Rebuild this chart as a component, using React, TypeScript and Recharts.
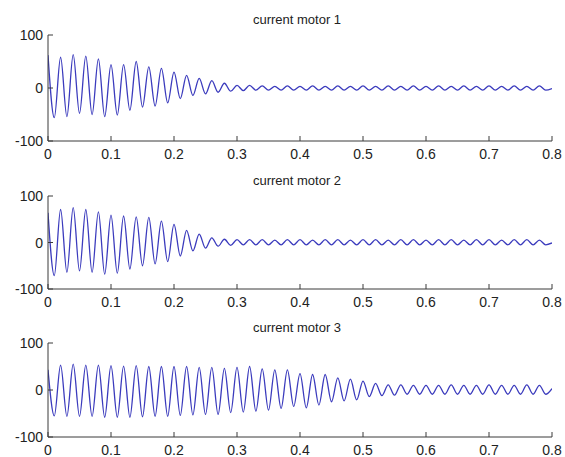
import React from 'react';
import { LineChart, Line, XAxis, YAxis } from 'recharts';

// sample times (s), one sample per half-cycle of the 50 Hz current
const times = [
  0, 0.01, 0.02, 0.03, 0.04, 0.05, 0.06, 0.07, 0.08, 0.09,
  0.1, 0.11, 0.12, 0.13, 0.14, 0.15, 0.16, 0.17, 0.18, 0.19,
  0.2, 0.21, 0.22, 0.23, 0.24, 0.25, 0.26, 0.27, 0.28, 0.29,
  0.3, 0.31, 0.32, 0.33, 0.34, 0.35, 0.36, 0.37, 0.38, 0.39,
  0.4, 0.41, 0.42, 0.43, 0.44, 0.45, 0.46, 0.47, 0.48, 0.49,
  0.5, 0.51, 0.52, 0.53, 0.54, 0.55, 0.56, 0.57, 0.58, 0.59,
  0.6, 0.61, 0.62, 0.63, 0.64, 0.65, 0.66, 0.67, 0.68, 0.69,
  0.7, 0.71, 0.72, 0.73, 0.74, 0.75, 0.76, 0.77, 0.78, 0.79,
  0.8,
];

const motor1 = [
  62, -56, 58, -54, 63, -48, 60, -50, 55, -54,
  44, -51, 44, -42, 50, -36, 40, -34, 37, -28,
  30, -20, 24, -14, 18, -11, 14, -8, 9, -6,
  5, -5, 5, -4, 4, -4, 3, -4, 4, -4,
  3, -4, 4, -4, 3, -4, 4, -4, 3, -4,
  4, -4, 3, -4, 4, -4, 3, -4, 4, -4,
  3, -4, 4, -4, 3, -4, 4, -4, 3, -4,
  4, -4, 3, -4, 4, -4, 3, -4, 4, -4,
  -1,
];

const motor2 = [
  64, -71, 71, -64, 75, -61, 71, -64, 66, -68,
  59, -66, 57, -57, 55, -50, 54, -46, 46, -41,
  39, -29, 26, -18, 18, -12, 10, -8, 7, -6,
  6, -5, 6, -5, 6, -5, 5, -5, 6, -5,
  6, -5, 5, -5, 6, -5, 6, -5, 5, -5,
  6, -5, 6, -5, 5, -5, 6, -5, 6, -5,
  5, -5, 6, -5, 6, -5, 5, -5, 6, -5,
  6, -5, 5, -5, 6, -5, 6, -5, 5, -5,
  -1,
];

const motor3 = [
  43, -55, 53, -56, 55, -56, 53, -56, 53, -58,
  52, -58, 51, -58, 52, -57, 50, -56, 50, -56,
  50, -54, 50, -53, 48, -52, 48, -52, 46, -48,
  48, -47, 50, -45, 45, -43, 43, -39, 43, -35,
  35, -38, 33, -32, 33, -25, 26, -23, 23, -21,
  19, -14, 14, -12, 11, -11, 11, -9, 10, -9,
  10, -9, 10, -9, 11, -9, 10, -9, 10, -9,
  11, -9, 10, -9, 10, -9, 11, -9, 10, -9,
  3,
];

const titles = ['current motor 1', 'current motor 2', 'current motor 3'];
const xTicks = [0, 0.1, 0.2, 0.3, 0.4, 0.5, 0.6, 0.7, 0.8];
const yTicks = [-100, 0, 100];

const AXIS = '#3a3a3a';
const TXT = '#222';
const LINE = '#3b3bbd';
const FONT = '"Liberation Sans", Arial, sans-serif';
const TICK_FS = 14;

const BottomTick = (props: any) => {
  const { x, y, payload } = props;
  return (
    <g>
      <line x1={x} y1={y} x2={x} y2={y - 5} stroke={AXIS} />
      <text x={x} y={y + 18} textAnchor="middle" fontSize={TICK_FS} fontFamily={FONT} fill={TXT}>
        {String(payload.value)}
      </text>
    </g>
  );
};
const TopTick = (props: any) => {
  const { x, y } = props;
  return <line x1={x} y1={y} x2={x} y2={y + 5} stroke={AXIS} />;
};
const LeftTick = (props: any) => {
  const { x, y, payload } = props;
  return (
    <g>
      <line x1={x} y1={y} x2={x + 5} y2={y} stroke={AXIS} />
      <text x={x - 5} y={y} dy="0.36em" textAnchor="end" fontSize={TICK_FS} fontFamily={FONT} fill={TXT}>
        {String(payload.value)}
      </text>
    </g>
  );
};
const RightTick = (props: any) => {
  const { x, y } = props;
  return <line x1={x} y1={y} x2={x - 5} y2={y} stroke={AXIS} />;
};

const panels = [
  { values: motor1, title: titles[0], top: 0, height: 165, plotTop: 35, titleY: 20 },
  { values: motor2, title: titles[1], top: 165, height: 148, plotTop: 31, titleY: 181 },
  { values: motor3, title: titles[2], top: 313, height: 144, plotTop: 30, titleY: 328 },
];
const BOTTOM_AXIS_H = [24, 24, 20];

export default function App() {
  return (
    <div style={{ position: 'fixed', left: 0, top: 0, width: 565, height: 457, background: '#fff', fontFamily: FONT }}>
      {panels.map((p, i) => {
        const data = times.map((t, k) => ({ t, v: p.values[k] }));
        return (
          <React.Fragment key={i}>
            <div
              style={{
                position: 'absolute', left: 197, width: 200, top: p.titleY - 8, height: 16, lineHeight: '16px',
                textAlign: 'center', fontSize: 13, color: TXT, fontFamily: FONT,
              }}
            >
              {p.title}
            </div>
            <div style={{ position: 'absolute', left: 0, top: p.top }}>
              <LineChart width={565} height={p.height} data={data}
                margin={{ top: p.plotTop, right: 13, left: 0, bottom: 0 }}>
                <XAxis dataKey="t" type="number" domain={[0, 0.8]} ticks={xTicks} interval={0}
                  height={BOTTOM_AXIS_H[i]} tickSize={0} tickMargin={0} tick={<BottomTick />}
                  axisLine={{ stroke: AXIS }} tickLine={false} allowDataOverflow />
                <XAxis xAxisId="top" orientation="top" dataKey="t" type="number" domain={[0, 0.8]} ticks={xTicks}
                  interval={0} height={0} tickSize={0} tickMargin={0} tick={<TopTick />}
                  axisLine={{ stroke: AXIS }} tickLine={false} allowDataOverflow />
                <YAxis type="number" domain={[-100, 100]} ticks={yTicks} interval={0} width={48}
                  tickSize={0} tickMargin={0} tick={<LeftTick />} axisLine={{ stroke: AXIS }} tickLine={false}
                  allowDataOverflow />
                <YAxis yAxisId="right" orientation="right" type="number" domain={[-100, 100]} ticks={yTicks}
                  interval={0} width={0} tickSize={0} tickMargin={0} tick={<RightTick />}
                  axisLine={{ stroke: AXIS }} tickLine={false} allowDataOverflow />
                <Line type="monotone" dataKey="v" stroke={LINE} strokeWidth={1.3} dot={false}
                  isAnimationActive={false} />
              </LineChart>
            </div>
          </React.Fragment>
        );
      })}
    </div>
  );
}
